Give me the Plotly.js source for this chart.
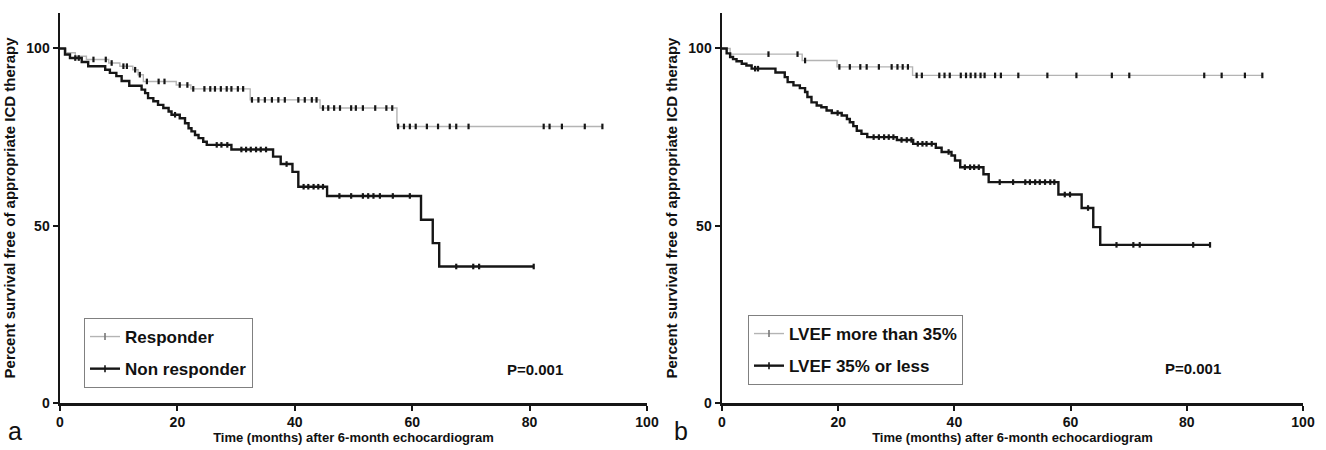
<!DOCTYPE html>
<html>
<head>
<meta charset="utf-8">
<script src="https://cdn.plot.ly/plotly-3.0.1.min.js"></script>
<style>html,body{margin:0;padding:0;background:#fff;}#chart{width:1326px;height:450px;}</style>
</head>
<body>
<div id="chart"></div>
<script>
// ---------- Data ----------
// Panel a: Responder (event times, survival after each event, censor times, last follow-up)
const respT = [1.0, 2.6, 4.5, 8.3, 10.2, 12.4, 13.3, 14.2, 19.8, 22.3, 32.4, 44.3, 57.4];
const respS = [98.8, 97.8, 96.9, 95.9, 95.0, 94.0, 92.6, 90.7, 89.7, 88.6, 85.5, 83.2, 78.0];
const respEnd = 92.4;
const respCens = [5.7, 7.8, 8.8, 10.8, 11.4, 12.8, 13.6, 14.8, 16.8, 17.8, 20.4, 21.7, 22.7, 24.6, 25.6, 26.4, 27.4, 28.4, 29.2, 30.3, 31.2, 32.7, 33.8, 34.9, 36.1, 37.2, 38.3, 40.6, 41.7, 42.9, 43.7, 44.8, 45.7, 46.7, 47.7, 49.6, 50.4, 51.6, 53.7, 55.6, 56.6, 57.6, 58.6, 59.6, 60.6, 62.5, 64.4, 66.4, 67.5, 69.6, 82.4, 83.4, 85.5, 89.4, 92.4];

// Panel a: Non responder
const nrT = [0.85, 1.7, 3.7, 4.8, 7.7, 8.5, 9.6, 10.5, 11.8, 13.9, 14.5, 15.0, 15.9, 16.7, 17.6, 18.5, 19.0, 20.4, 21.3, 21.9, 22.4, 23.0, 23.6, 24.4, 25.0, 29.2, 36.3, 37.6, 39.6, 40.6, 45.5, 61.5, 63.5, 64.6];
const nrS = [98.3, 97.3, 96.2, 95.0, 94.0, 93.1, 92.2, 90.8, 89.5, 88.4, 87.4, 86.0, 85.1, 84.1, 83.2, 82.2, 81.3, 80.3, 78.9, 77.5, 76.6, 75.6, 74.7, 73.7, 72.8, 71.5, 69.5, 67.4, 65.2, 61.0, 58.4, 51.7, 45.1, 38.5];
const nrEnd = 80.7;
const nrCens = [2.6, 3.2, 19.6, 26.7, 27.5, 28.5, 30.9, 31.7, 32.5, 33.4, 34.2, 35.1, 38.6, 41.5, 42.3, 43.2, 44.0, 44.8, 47.6, 49.6, 51.6, 52.5, 53.4, 54.5, 56.7, 59.6, 67.5, 70.4, 71.4, 80.7];

// Panel b: LVEF more than 35%
const hiT = [1.4, 13.8, 19.8, 32.8];
const hiS = [98.4, 96.6, 94.8, 92.4];
const hiEnd = 93.0;
const hiCens = [8.0, 13.0, 14.3, 20.2, 22.0, 23.8, 24.9, 27.0, 29.2, 30.2, 31.1, 32.0, 33.5, 34.4, 37.4, 38.3, 39.2, 41.1, 42.0, 42.8, 43.6, 44.5, 45.2, 47.0, 48.0, 51.0, 56.0, 61.0, 67.1, 70.1, 83.0, 86.0, 90.0, 93.0];

// Panel b: LVEF 35% or less
const loT = [0.8, 1.4, 1.9, 2.5, 3.4, 4.2, 5.1, 9.2, 10.8, 11.3, 12.3, 13.4, 14.3, 14.7, 15.4, 16.3, 17.1, 18.0, 18.9, 20.6, 21.5, 22.0, 22.6, 23.2, 24.0, 25.0, 30.1, 32.9, 36.8, 37.8, 39.5, 40.1, 41.0, 45.0, 45.9, 57.9, 61.9, 63.9, 65.1];
const loS = [98.6, 97.6, 97.0, 96.4, 95.7, 95.2, 94.3, 93.2, 91.9, 90.5, 89.6, 88.8, 87.7, 86.3, 84.8, 83.9, 83.4, 82.5, 81.8, 81.1, 80.1, 79.2, 78.1, 76.8, 75.9, 75.0, 74.2, 73.1, 72.0, 70.8, 69.8, 68.4, 66.5, 64.5, 62.3, 58.8, 55.0, 49.6, 44.6];
const loEnd = 84.0;
const loCens = [5.7, 6.2, 19.9, 26.1, 27.0, 27.9, 28.7, 29.5, 30.9, 31.8, 32.6, 33.7, 34.5, 35.2, 36.1, 39.0, 41.8, 42.7, 43.4, 44.2, 47.8, 50.1, 52.2, 53.0, 53.9, 54.7, 55.6, 56.5, 57.2, 59.0, 59.9, 63.0, 67.9, 70.8, 71.9, 81.1, 84.0];

// Labels and ticks
const seriesNames = ["Responder", "Non responder", "LVEF more than 35%", "LVEF 35% or less"];
const xTicks = [0, 20, 40, 60, 80, 100];
const yTicks = [0, 50, 100];
const xTitle = "Time (months) after 6-month echocardiogram";
const yTitle = "Percent survival free of appropriate ICD therapy";
const pText = "P=0.001";
const panelLetters = ["a", "b"];

// ---------- Helpers ----------
function stepPath(T, S, end) {
  const x = [0].concat(T, [end]);
  const y = [100].concat(S, [S[S.length - 1]]);
  return {x, y};
}
function survAt(T, S, t) {
  let s = 100;
  for (let i = 0; i < T.length; i++) { if (T[i] <= t) s = S[i]; }
  return s;
}

const GRAY = "#b4b4b4", BLACK = "#161616";
const traces = [];
function addSeries(T, S, end, cens, name, color, width, xa, ya, leg) {
  const p = stepPath(T, S, end);
  traces.push({x: p.x, y: p.y, xaxis: xa, yaxis: ya, mode: "lines", line: {shape: "hv", color: color, width: width}, showlegend: false, hoverinfo: "skip"});
  traces.push({x: cens, y: cens.map(t => survAt(T, S, t)), xaxis: xa, yaxis: ya, mode: "markers",
    marker: {symbol: "line-ns", size: 4, color: BLACK, line: {width: 2.2, color: BLACK}}, showlegend: false, hoverinfo: "skip", cliponaxis: false});
  traces.push({x: [null], y: [null], xaxis: xa, yaxis: ya, mode: "lines+markers", name: name, legend: leg, legendgroup: name,
    line: {color: color, width: width}, marker: {symbol: "line-ns", size: 5, color: BLACK, line: {width: 1.6, color: color === GRAY ? "#777" : BLACK}}});
}
addSeries(respT, respS, respEnd, respCens, seriesNames[0], GRAY, 1.4, "x", "y", "legend");
addSeries(nrT, nrS, nrEnd, nrCens, seriesNames[1], BLACK, 2.4, "x", "y", "legend");
addSeries(hiT, hiS, hiEnd, hiCens, seriesNames[2], GRAY, 1.4, "x2", "y2", "legend2");
addSeries(loT, loS, loEnd, loCens, seriesNames[3], BLACK, 2.4, "x2", "y2", "legend2");

const W = 1326, H = 450;
const FONT = "Liberation Sans, Arial, Helvetica, sans-serif";
function xAxis(dom, anchor) {
  return {domain: dom, anchor: anchor, range: [0, 100], tickvals: xTicks, ticktext: xTicks.map(String),
    showline: true, linewidth: 2.5, linecolor: BLACK, ticks: "outside", ticklen: 5, tickwidth: 2, tickcolor: BLACK,
    tickfont: {size: 14, weight: "bold", color: "#111"}, showgrid: false, zeroline: false, fixedrange: true,
    title: {text: xTitle, font: {size: 13, weight: "bold", color: "#111"}, standoff: 4}};
}
function yAxis(anchor) {
  return {domain: [1 - 403 / H, 1 - 13 / H], anchor: anchor, range: [0, 110], tickvals: yTicks, ticktext: yTicks.map(String),
    showline: true, linewidth: 2.5, linecolor: BLACK, ticks: "outside", ticklen: 5, tickwidth: 2, tickcolor: BLACK,
    tickfont: {size: 14, weight: "bold", color: "#111"}, showgrid: false, zeroline: false, fixedrange: true,
    title: {text: yTitle, font: {size: 15, weight: "bold", color: "#111"}, standoff: 7}};
}
function legendBox(x, y) {
  return {x: x, y: y, xanchor: "left", yanchor: "top", bgcolor: "white", bordercolor: "#808080", borderwidth: 1,
    font: {size: 17, weight: "bold", color: "#111"}, traceorder: "grouped", tracegroupgap: 7, itemwidth: 30};
}
function note(x, y, text, size, weight) {
  return {xref: "paper", yref: "paper", x: x / W, y: 1 - y / H, xanchor: "center", yanchor: "middle",
    text: text, showarrow: false, font: {size: size, weight: weight, color: "#111"}};
}

const layout = {
  width: W, height: H, margin: {l: 0, r: 0, t: 0, b: 0}, paper_bgcolor: "white", plot_bgcolor: "white",
  font: {family: FONT, color: "#111"}, showlegend: true,
  xaxis: xAxis([60 / W, 647 / W], "y"),
  yaxis: yAxis("x"),
  xaxis2: xAxis([722 / W, 1303 / W], "y2"),
  yaxis2: yAxis("x2"),
  legend: legendBox(84 / W, 1 - 318 / H),
  legend2: legendBox(748 / W, 1 - 315 / H),
  annotations: [
    note(535, 369, pText, 15, "bold"),
    note(1193, 368, pText, 15, "bold"),
    note(15, 431, panelLetters[0], 25, "normal"),
    note(681, 431, panelLetters[1], 25, "normal")
  ]
};

Plotly.newPlot("chart", traces, layout, {displayModeBar: false, staticPlot: true});
</script>
</body>
</html>
